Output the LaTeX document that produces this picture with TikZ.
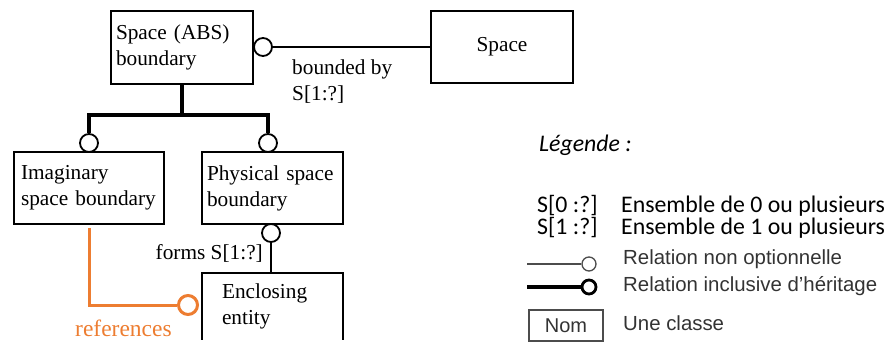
\documentclass[tikz,border=0pt]{standalone}
\usepackage{fontspec}
\setmainfont{Liberation Serif}
\newfontfamily\calib{Carlito}
\newfontfamily\arialf{Liberation Sans}
\definecolor{refor}{HTML}{ED7D31}
\definecolor{leggray}{HTML}{333333}
\begin{document}
\begin{tikzpicture}[x=1pt,y=-1pt,
  cls/.style={draw, line width=1.8pt, inner ysep=0pt, align=left,
              font=\fontsize{21.3}{26}\selectfont},
  rel/.style={circle, draw, line width=1.8pt, fill=white, minimum size=18pt, inner sep=0pt},
  thinlink/.style={line width=1.8pt},
  inhlink/.style={line width=4.5pt},
  lbl/.style={inner sep=0pt, align=left, font=\fontsize{21.3}{26.5}\selectfont},
  legcal/.style={inner sep=0pt, anchor=base west, font=\calib\fontsize{23.8}{28}\selectfont},
  legari/.style={inner sep=0pt, anchor=base west, text=leggray, font=\arialf\fontsize{20.4}{24}\selectfont},
]
\useasboundingbox (0,0) rectangle (894,342);
\clip (0,0) rectangle (894,342);

% classes
\node[cls, minimum height=73pt, text width=132pt, inner xsep=5pt] (abs) at (182,47.5) {Space (ABS)\\boundary};
\node[cls, minimum width=142pt, minimum height=72pt, align=center] (space) at (502,47) {Space};
\node[cls, minimum height=72pt, text width=136pt, inner xsep=7pt] (imag) at (89,188) {Imaginary\\space boundary};
\node[cls, minimum height=72pt, text width=131pt, inner xsep=5pt] (phys) at (272.5,188) {Physical space\\boundary};
\node[cls, minimum height=68pt, text width=101pt, inner xsep=20pt, anchor=north] (encl) at (272.5,272) {Enclosing\\entity};
\draw[white, line width=3pt] (encl.south west) -- (encl.south east);

% relation circles
\node[rel] (cabs) at (263,47) {};
\node[rel] (cimag) at (89,143) {};
\node[rel] (cphys) at (268,143) {};
\node[rel] (cform) at (271,233) {};
\node[rel, draw=refor, line width=3pt, minimum size=19pt] (cref) at (188,305) {};

% connectors
\draw[thinlink] (cabs) -- (space);
\coordinate (junc) at (182,115);
\draw[inhlink] (abs.south) -- (junc);
\draw[inhlink] (cimag.north) |- (junc) -| (cphys.north);
\draw[thinlink] (cform.south) -- (cform.south |- encl.north);
\draw[refor, line width=3pt] ([yshift=-3pt]imag.south) |- (cref.west);

% labels
\node[lbl, anchor=west] (bnd) at (292,81.5) {bounded by\\S[1:?]};
\node[lbl, anchor=east] (forms) at (263,253) {forms S[1:?]};
\node[inner sep=0pt, anchor=base west, text=refor, font=\fontsize{23.5}{28}\selectfont] (refs) at (75,336) {references};

% legend
\node[legcal, font=\calib\itshape\fontsize{23.8}{28}\selectfont] (leg) at (539,152) {Légende :};
\node[legcal] (s0) at (537,212) {S[0 :?]};
\node[legcal] (s0d) at (621,212) {Ensemble de 0 ou plusieurs};
\node[legcal] (s1) at (537,234) {S[1 :?]};
\node[legcal] (s1d) at (621,234) {Ensemble de 1 ou plusieurs};
\node[legari] (r1d) at (623,264) {Relation non optionnelle};
\node[legari] (r2d) at (623,291) {Relation inclusive d’héritage};
\node[legari] (ucd) at (623,330) {Une classe};

\node[rel, minimum size=14pt, line width=1.3pt, draw=black!70] (lc1) at (589,264) {};
\coordinate (lc1s) at (527,264);
\draw[line width=1.6pt, black!70] (lc1s) -- (lc1);
\node[rel, minimum size=14pt, line width=2.8pt] (lc2) at (589,287) {};
\coordinate (lc2s) at (527,287);
\draw[line width=3.2pt] (lc2s) -- (lc2);
\node[draw=black!70, line width=1.3pt, minimum width=74pt, minimum height=31pt, inner sep=0pt,
      text=leggray, font=\arialf\fontsize{20}{24}\selectfont] (nom) at (566,325.5) {Nom};
\end{tikzpicture}
\end{document}
